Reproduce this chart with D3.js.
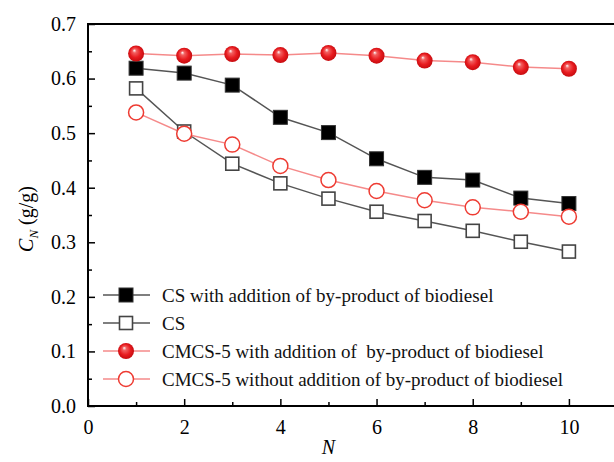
<!DOCTYPE html>
<html>
<head>
<meta charset="utf-8">
<script src="https://cdn.jsdelivr.net/npm/d3@7"></script>
<style>
  body { margin: 0; background: #fff; }
</style>
</head>
<body>
<div id="chart"></div>
<script>
// data
var cycles = [1, 2, 3, 4, 5, 6, 7, 8, 9, 10];
var csWith = [0.619, 0.610, 0.588, 0.529, 0.501, 0.453, 0.419, 0.414, 0.381, 0.371];
var csPlain = [0.582, 0.503, 0.444, 0.408, 0.380, 0.356, 0.339, 0.321, 0.301, 0.283];
var cmcsWith = [0.646, 0.642, 0.645, 0.643, 0.647, 0.642, 0.633, 0.630, 0.621, 0.618];
var cmcsWithout = [0.538, 0.499, 0.479, 0.440, 0.414, 0.394, 0.377, 0.364, 0.356, 0.347];
var xTicks = [0, 2, 4, 6, 8, 10];
var yTicks = [0.0, 0.1, 0.2, 0.3, 0.4, 0.5, 0.6, 0.7];
var legendLabels = [
  "CS with addition of by-product of biodiesel",
  "CS",
  "CMCS-5 with addition of  by-product of biodiesel",
  "CMCS-5 without addition of by-product of biodiesel"
];

var FONT = "'Liberation Serif', 'DejaVu Serif', 'Noto Serif', serif";
var width = 614, height = 462;
var margin = {top: 24, right: 0, bottom: 56, left: 88};

var svg = d3.select("#chart")
  .append("svg")
    .attr("width", width)
    .attr("height", height)
    .attr("font-family", FONT);

var defs = svg.append("defs");
var grad = defs.append("radialGradient")
    .attr("id", "ball")
    .attr("cx", "50%").attr("cy", "50%").attr("r", "55%")
    .attr("fx", "38%").attr("fy", "30%");
grad.append("stop").attr("offset", "0%").attr("stop-color", "#ffffff");
grad.append("stop").attr("offset", "22%").attr("stop-color", "#f26060");
grad.append("stop").attr("offset", "60%").attr("stop-color", "#e81c20");
grad.append("stop").attr("offset", "100%").attr("stop-color", "#c0080c");

var x = d3.scaleLinear().domain([0, 11]).range([margin.left, 617]);
var y = d3.scaleLinear().domain([0, 0.7]).range([height - margin.bottom, margin.top]);

// frame: left + bottom + top
var g = svg.append("g");
g.append("line")
  .attr("x1", x(0)).attr("x2", width).attr("y1", y(0)).attr("y2", y(0))
  .attr("stroke", "#000").attr("stroke-width", 2);
g.append("line")
  .attr("x1", x(0)).attr("x2", width).attr("y1", y(0.7)).attr("y2", y(0.7))
  .attr("stroke", "#000").attr("stroke-width", 2);
g.append("line")
  .attr("x1", x(0)).attr("x2", x(0)).attr("y1", y(0) + 1).attr("y2", y(0.7) - 1)
  .attr("stroke", "#000").attr("stroke-width", 2);

// x axis (ticks inward)
var xAxis = svg.append("g")
  .attr("transform", "translate(0," + y(0) + ")")
  .call(d3.axisBottom(x).tickValues(d3.range(0, 11, 1)).tickSize(-7).tickPadding(14)
    .tickFormat(function(d) { return xTicks.indexOf(d) >= 0 ? d : ""; }));
xAxis.attr("font-family", FONT);
xAxis.select(".domain").remove();
xAxis.selectAll(".tick line").attr("stroke-width", 1.5)
  .attr("y2", function(d) { return d % 2 === 0 ? -7 : -4; });
xAxis.selectAll("text").attr("font-size", 20).attr("fill", "#000");

// y axis (ticks inward)
var yAxis = svg.append("g")
  .attr("transform", "translate(" + x(0) + ",0)")
  .call(d3.axisLeft(y).tickValues(d3.range(0, 0.70001, 0.05)).tickSize(-7).tickPadding(12)
    .tickFormat(function(d) {
      var r = Math.round(d * 100);
      return r % 10 === 0 ? d3.format(".1f")(d) : "";
    }));
yAxis.attr("font-family", FONT);
yAxis.select(".domain").remove();
yAxis.selectAll(".tick line").attr("stroke-width", 1.5)
  .attr("x2", function(d) { return Math.round(d * 100) % 10 === 0 ? 7 : 4; });
yAxis.selectAll("text").attr("font-size", 20).attr("fill", "#000");

// axis titles
var yt = svg.append("text")
  .attr("transform", "translate(33," + (y(0.35) + 4) + ") rotate(-90)")
  .attr("text-anchor", "middle")
  .attr("font-size", 20);
yt.append("tspan").attr("font-style", "italic").text("C");
yt.append("tspan").attr("font-style", "italic").attr("font-size", 13).attr("dy", 5).text("N");
yt.append("tspan").attr("dy", -5).text(" (g/g)");

svg.append("text")
  .attr("x", x(5)).attr("y", 454)
  .attr("text-anchor", "middle")
  .attr("font-size", 20)
  .attr("font-style", "italic")
  .text("N");

// series
var series = [
  {values: csWith, line: "#555", marker: "fsq"},
  {values: csPlain, line: "#555", marker: "osq"},
  {values: cmcsWith, line: "#f58a8a", marker: "fci"},
  {values: cmcsWithout, line: "#f58a8a", marker: "oci"}
];

var line = d3.line()
  .x(function(d, i) { return x(cycles[i]); })
  .y(function(d) { return y(d); });

function drawMarker(sel, type) {
  if (type === "fsq") {
    sel.append("rect").attr("x", -7).attr("y", -7).attr("width", 14).attr("height", 14)
      .attr("fill", "#000").attr("stroke", "#333").attr("stroke-width", 1);
  } else if (type === "osq") {
    sel.append("rect").attr("x", -6.5).attr("y", -6.5).attr("width", 13).attr("height", 13)
      .attr("fill", "#fff").attr("stroke", "#444").attr("stroke-width", 1.6);
  } else if (type === "fci") {
    sel.append("circle").attr("r", 8).attr("fill", "url(#ball)");
  } else {
    sel.append("circle").attr("r", 7.5).attr("fill", "#fff")
      .attr("stroke", "#ee3b32").attr("stroke-width", 1.5);
  }
}

series.forEach(function(s) {
  svg.append("path")
    .datum(s.values)
    .attr("fill", "none")
    .attr("stroke", s.line)
    .attr("stroke-width", 1.5)
    .attr("d", line);
});
// draw markers in order: open square, filled square, filled circle, open circle
[1, 0, 2, 3].forEach(function(k) {
  var s = series[k];
  svg.selectAll(null).data(s.values).enter().append("g")
    .attr("transform", function(d, i) { return "translate(" + x(cycles[i]) + "," + y(d) + ")"; })
    .each(function() { drawMarker(d3.select(this), s.marker); });
});

// legend
var legend = svg.selectAll(".legendRow").data(series)
  .enter().append("g")
  .attr("class", "legendRow")
  .attr("transform", function(d, i) { return "translate(103," + (295 + i * 28) + ")"; });
legend.append("line")
  .attr("x1", 0).attr("x2", 47).attr("y1", 0).attr("y2", 0)
  .attr("stroke", function(d) { return d.line; }).attr("stroke-width", 1.5);
legend.append("g").attr("transform", "translate(23,0)")
  .each(function(d) { drawMarker(d3.select(this), d.marker); });
legend.append("text")
  .attr("x", 59).attr("y", 6.5)
  .attr("font-size", 19)
  .attr("fill", "#111")
  .style("white-space", "pre")
  .text(function(d, i) { return legendLabels[i]; });
</script>
</body>
</html>
